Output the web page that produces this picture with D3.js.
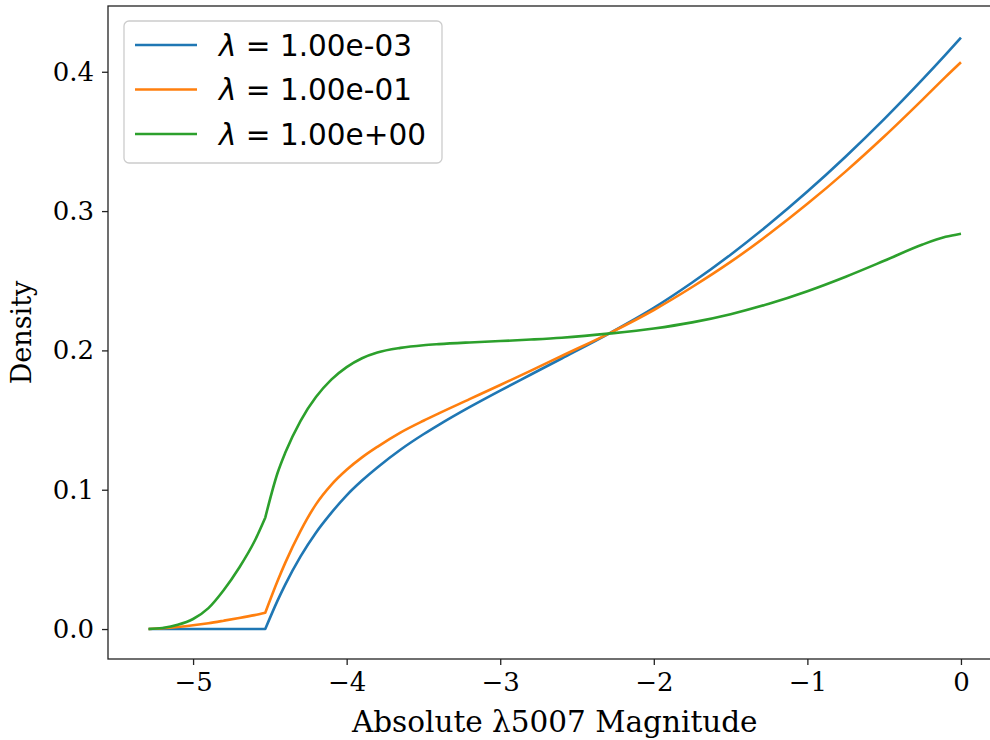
<!DOCTYPE html>
<html>
<head>
<meta charset="utf-8">
<script src="https://cdn.jsdelivr.net/npm/d3@7"></script>
<style>
  body { margin: 0; background: #fff; }
  svg { display: block; }
</style>
</head>
<body>
<svg id="chart" width="990" height="740"></svg>
<script>
// magnitude grid shared by the three curves
var magnitude = [-5.29, -5.2, -5.1, -5.0, -4.9, -4.8, -4.7, -4.6, -4.53, -4.45, -4.4, -4.3, -4.2, -4.1,
  -4.0, -3.9, -3.8, -3.65, -3.5, -3.4, -3.2, -3.0, -2.8, -2.6, -2.28, -2.0, -1.75, -1.5, -1.25,
  -1.0, -0.75, -0.5, -0.25, -0.1, 0];
// index of the kink at M = -4.53
var kink = 8;

var density1e3 = [0, 0, 0, 0, 0, 0, 0, 0, 0, 0.0204, 0.0319, 0.0522, 0.0692, 0.0834,
  0.0960, 0.1066, 0.1160, 0.1287, 0.1398, 0.1466, 0.1593, 0.1712, 0.1827, 0.1942, 0.2128, 0.2305, 0.2487, 0.2687, 0.2905,
  0.3140, 0.3392, 0.3660, 0.3945, 0.4123, 0.4245];

var density1e1 = [0, 0.0006, 0.0015, 0.0027, 0.0042, 0.006, 0.0079, 0.0100, 0.0117, 0.0345, 0.0475, 0.0705, 0.0895, 0.1035,
  0.1143, 0.1232, 0.1308, 0.1410, 0.1495, 0.1548, 0.1650, 0.1752, 0.1855, 0.1960, 0.2128, 0.2290, 0.2455, 0.2635, 0.2835,
  0.3052, 0.3285, 0.3535, 0.3800, 0.3963, 0.4068];

var density1e0 = [0, 0.0008, 0.0030, 0.0072, 0.0150, 0.0280, 0.0440, 0.0630, 0.0800, 0.1120, 0.1265, 0.1495, 0.1665, 0.1790,
  0.1880, 0.1944, 0.1985, 0.2018, 0.2037, 0.2045, 0.2057, 0.2067, 0.2078, 0.2091, 0.2122, 0.2157, 0.2201, 0.2260, 0.2335,
  0.2425, 0.2529, 0.2643, 0.2760, 0.2815, 0.2838];

var seriesLabels = ["1.00e-03", "1.00e-01", "1.00e+00"];
var seriesColors = ["#1f77b4", "#ff7f0e", "#2ca02c"];
var xTicks = [-5, -4, -3, -2, -1, 0];
var yTicks = [0.0, 0.1, 0.2, 0.3, 0.4];

var margin = {top: 6, left: 108},
    width = 893.5,
    height = 653;

var x = d3.scaleLinear().domain([-5.554, 0.264]).range([0, width]),
    y = d3.scaleLinear().domain([-0.0215, 0.4472]).range([height, 0]);

var svg = d3.select("#chart");
var g = svg.append("g")
  .attr("transform", "translate(" + margin.left + "," + margin.top + ")");

// lines: smooth on each side of the kink, sharp corner at the kink
var allSeries = [density1e3, density1e1, density1e0];
var line = d3.line()
  .x(function(d) { return x(d[0]); })
  .y(function(d) { return y(d[1]); })
  .curve(d3.curveMonotoneX);

allSeries.forEach(function(vals, i) {
  var pts = magnitude.map(function(m, j) { return [m, vals[j]]; });
  var left = line(pts.slice(0, kink + 1)),
      right = line(pts.slice(kink));
  g.append("path")
    .attr("fill", "none")
    .attr("stroke", seriesColors[i])
    .attr("stroke-width", 2.6)
    .attr("stroke-linejoin", "round")
    .attr("d", left + right.replace(/^M/, "L"));
});

// axes
var xAxis = g.append("g")
  .attr("transform", "translate(0," + height + ")")
  .call(d3.axisBottom(x).tickValues(xTicks).tickSize(6).tickPadding(8)
    .tickFormat(function(d) { return d < 0 ? "\u2212" + Math.abs(d) : d; }));
var yAxis = g.append("g")
  .call(d3.axisLeft(y).tickValues(yTicks).tickSize(6).tickPadding(8).tickFormat(d3.format(".1f")));

[xAxis, yAxis].forEach(function(a) {
  a.select(".domain").remove();
  a.selectAll("line").attr("stroke", "#222").attr("stroke-width", 1.3);
  a.selectAll("text").attr("fill", "#000")
    .style("font-family", "'DejaVu Serif', serif").style("font-size", "26px");
});

// frame
g.append("rect")
  .attr("width", width).attr("height", height)
  .attr("fill", "none").attr("stroke", "#222").attr("stroke-width", 1.3);

// axis labels
svg.append("text")
  .attr("x", margin.left + width / 2).attr("y", 732)
  .attr("text-anchor", "middle")
  .style("font-family", "'DejaVu Serif', serif").style("font-size", "29.5px")
  .text("Absolute \u03bb5007 Magnitude");
svg.append("text")
  .attr("transform", "translate(31," + (margin.top + height / 2) + ") rotate(-90)")
  .attr("text-anchor", "middle")
  .style("font-family", "'DejaVu Serif', serif").style("font-size", "27px")
  .text("Density");

// legend
var legend = svg.append("g").attr("transform", "translate(124,21)");
legend.append("rect")
  .attr("width", 318).attr("height", 142).attr("rx", 5)
  .attr("fill", "#fff").attr("fill-opacity", 0.8)
  .attr("stroke", "#ccc").attr("stroke-width", 1.3);
seriesLabels.forEach(function(lab, i) {
  var row = legend.append("g").attr("transform", "translate(0," + (24 + i * 44.5) + ")");
  row.append("line")
    .attr("x1", 11).attr("x2", 73)
    .attr("stroke", seriesColors[i]).attr("stroke-width", 2.6);
  var t = row.append("text")
    .attr("x", 95).attr("dy", "0.36em")
    .style("font-family", "'DejaVu Sans', sans-serif").style("font-size", "29.5px");
  t.append("tspan").style("font-style", "italic").text("\u03bb");
  t.append("tspan").text(" = " + lab);
});
</script>
</body>
</html>
